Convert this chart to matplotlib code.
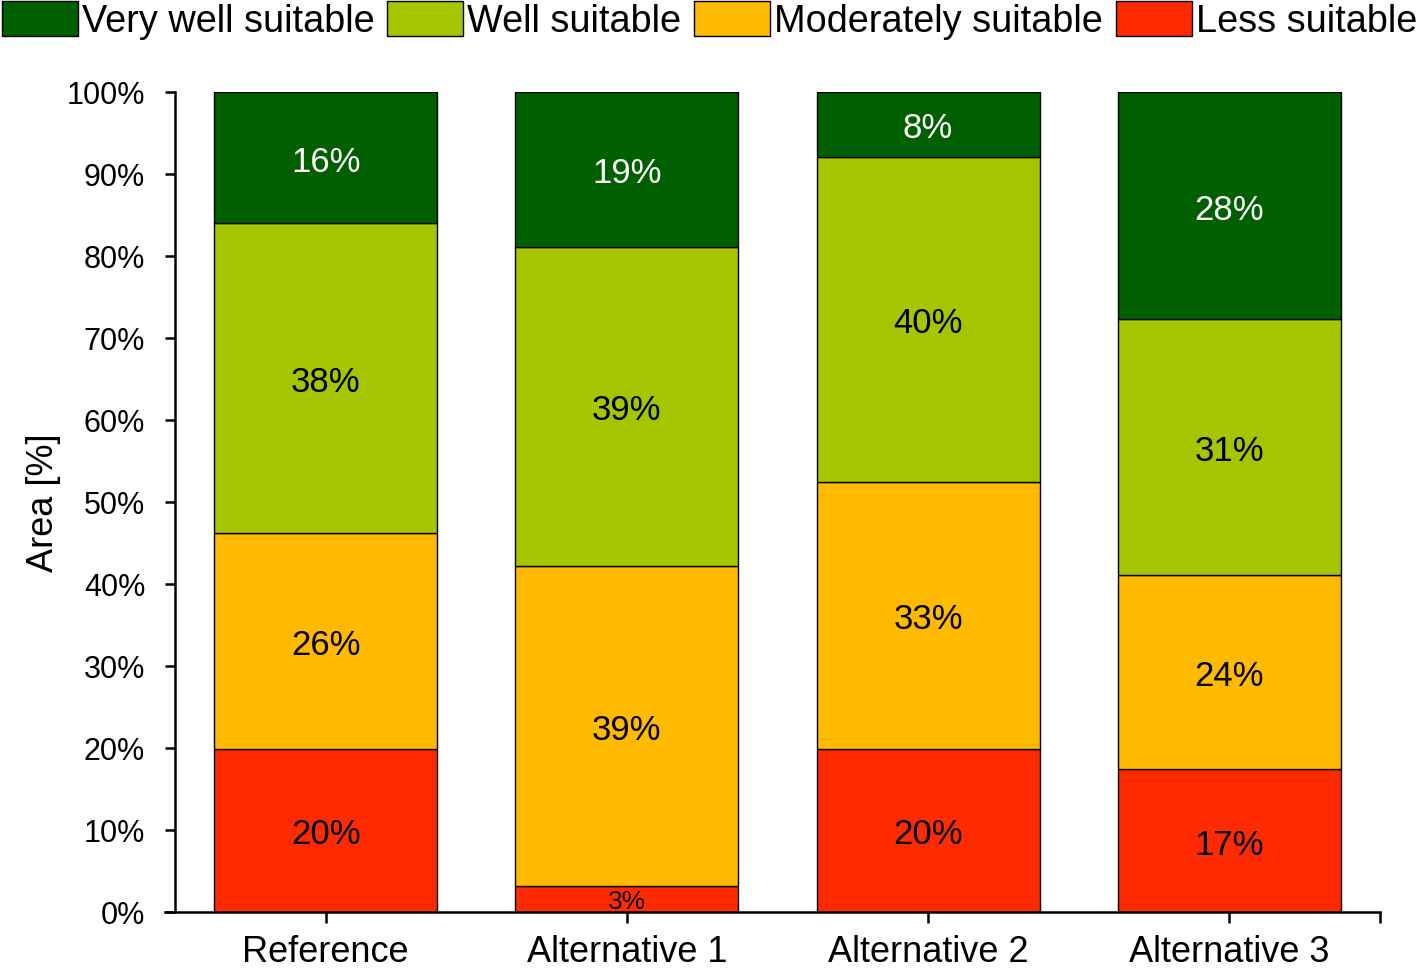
import numpy as np
import matplotlib
matplotlib.use('Agg')
import matplotlib.pyplot as plt
from matplotlib.ticker import FuncFormatter

plt.rcParams['font.family'] = ['Liberation Sans', 'DejaVu Sans']

# data (percent of area)
categories = ['Reference', 'Alternative 1', 'Alternative 2', 'Alternative 3']
less_suitable = [19.9, 3.2, 19.9, 17.4]
moderately_suitable = [26.3, 39.0, 32.6, 23.7]
well_suitable = [37.8, 38.9, 39.6, 31.2]
very_well_suitable = [16.0, 18.9, 7.9, 27.7]

series = [
    ('Less suitable', less_suitable, '#FF2A00', 'black'),
    ('Moderately suitable', moderately_suitable, '#FFBA00', 'black'),
    ('Well suitable', well_suitable, '#A6C400', 'black'),
    ('Very well suitable', very_well_suitable, '#006000', 'white'),
]

fig = plt.figure(figsize=(14.16, 9.70), dpi=100)
ax = fig.add_axes([175 / 1416, 57 / 970, 1205 / 1416, 820 / 970])

x = np.arange(len(categories))
bottom = np.zeros(len(categories))
handles = {}
for name, vals, color, txtcolor in series:
    vals = np.array(vals)
    bars = ax.bar(x, vals, width=0.74, bottom=bottom, color=color,
                  edgecolor='black', linewidth=1.0, label=name)
    handles[name] = bars
    for xi, b, v in zip(x, bottom, vals):
        size = 19 if v < 5 else 25
        ax.text(xi, b + v / 2, f'{v:.0f}%', ha='center', va='center_baseline',
                fontsize=size, color=txtcolor)
    bottom += vals

ax.set_xlim(-0.5, 3.5)
ax.set_ylim(0, 100)
ax.set_yticks(np.arange(0, 101, 10))
ax.yaxis.set_major_formatter(FuncFormatter(lambda v, p: f'{v:.0f}%'))
ax.set_xticks(x)
ax.set_xticklabels(categories, fontsize=26)
ax.set_xticks([3.5], minor=True)
ax.tick_params(axis='y', labelsize=22, length=7.5, width=1.8, pad=14)
ax.tick_params(axis='x', which='both', length=8, width=1.8, pad=7.5)
ax.set_ylabel('Area [%]', fontsize=26, labelpad=4)

for s in ['top', 'right']:
    ax.spines[s].set_visible(False)
for s in ['left', 'bottom']:
    ax.spines[s].set_linewidth(1.8)
ax.spines['bottom'].set_bounds(-0.5 - 10 / 301, 3.5)

order = ['Very well suitable', 'Well suitable', 'Moderately suitable', 'Less suitable']
fig.legend([handles[n] for n in order], order, loc='upper left',
           bbox_to_anchor=(0.0, 1.0), ncol=4, frameon=False, fontsize=27.3,
           handlelength=2.0, handleheight=1.05, handletextpad=0.1,
           columnspacing=0.35, borderpad=0.05, borderaxespad=0.0)

fig.savefig('out.png', dpi=100)
